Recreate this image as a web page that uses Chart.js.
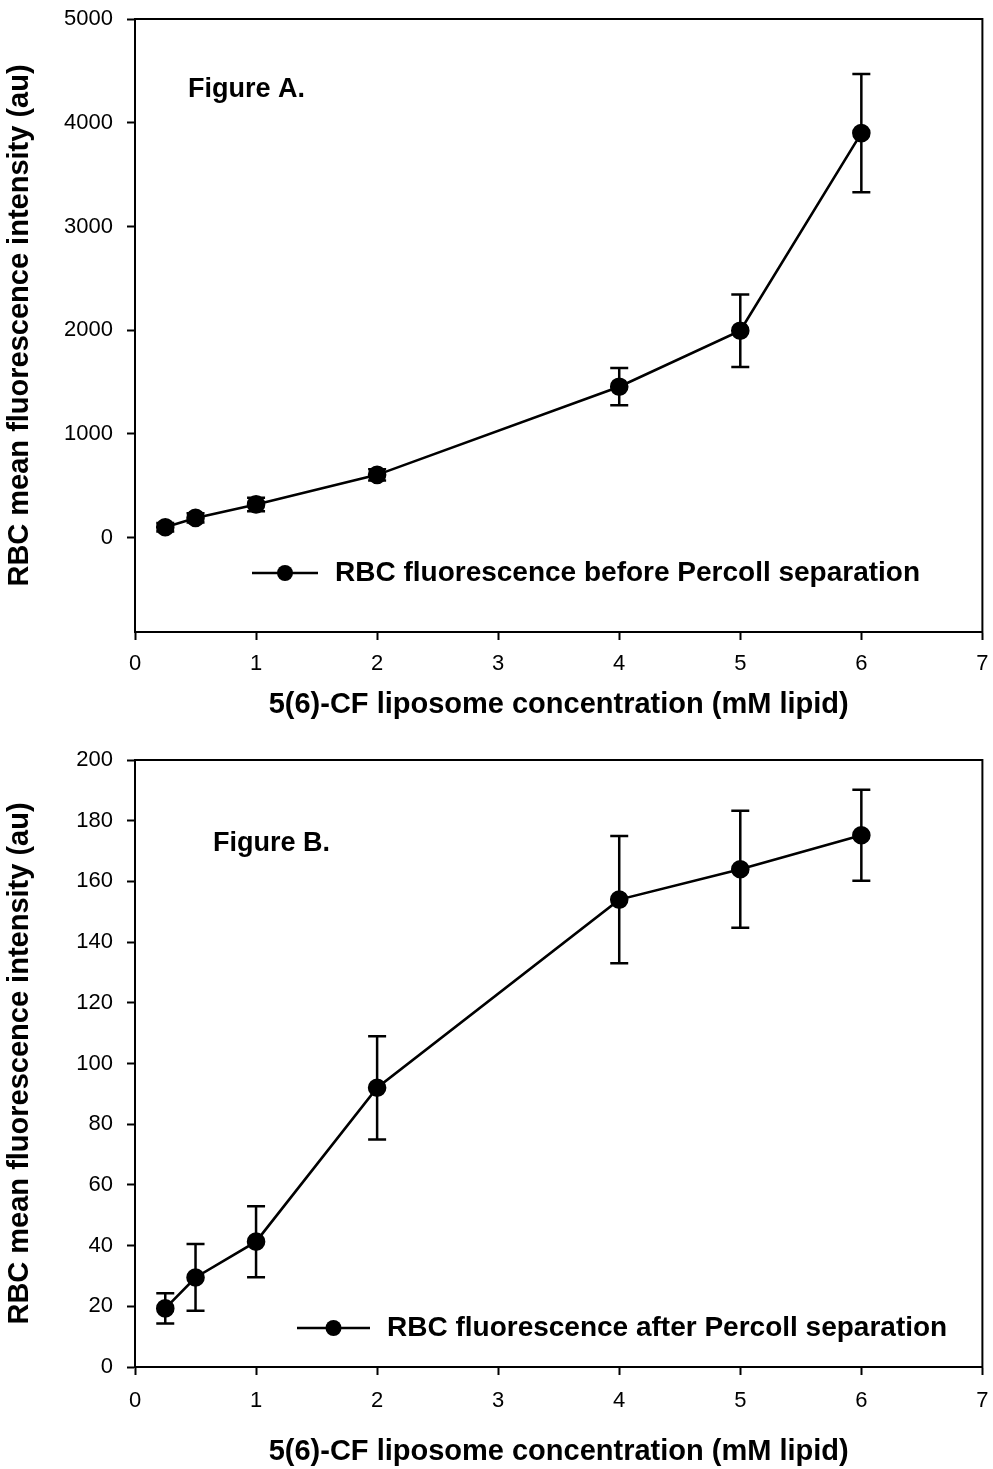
<!DOCTYPE html>
<html>
<head>
<meta charset="utf-8">
<script src="https://cdn.jsdelivr.net/npm/chart.js@4.4.1/dist/chart.umd.min.js"></script>
<style>
  body { margin: 0; background: #fff; }
  .panel { position: absolute; left: 0; }
  #panelA { top: 0; }
  #panelB { top: 730px; }
</style>
</head>
<body>
<div class="panel" id="panelA"><canvas id="chartA" width="993" height="730"></canvas></div>
<div class="panel" id="panelB"><canvas id="chartB" width="993" height="739"></canvas></div>
<script>
// liposome concentration (mM lipid)
const concentrations = [0.25, 0.5, 1, 2, 4, 5, 6];

// Figure A: before Percoll separation
const fluorBefore = [100, 190, 320, 605, 1455, 1995, 3900];
const errBefore = [40, 45, 65, 55, 180, 350, 570];

// Figure B: after Percoll separation
const fluorAfter = [19.3, 29.5, 41.3, 92, 154, 164, 175.2];
const errAfter = [5, 11, 11.7, 17, 21, 19.3, 15];

const xTicks = [0, 1, 2, 3, 4, 5, 6, 7];
const yTicksA = [0, 1000, 2000, 3000, 4000, 5000];
const yTicksB = [0, 20, 40, 60, 80, 100, 120, 140, 160, 180, 200];

const FONT = "'Liberation Sans', Arial, Helvetica, sans-serif";

// box around the plot area, vertical error bars with caps, panel label, legend
const frameAndErrors = {
  id: 'frameAndErrors',
  afterDatasetsDraw(chart, args, opts) {
    const { ctx, chartArea: a, scales: { x, y } } = chart;
    ctx.save();
    ctx.strokeStyle = '#000';
    ctx.fillStyle = '#000';
    ctx.lineWidth = 2;
    ctx.strokeRect(a.left, a.top, a.right - a.left, a.bottom - a.top);
    ctx.lineWidth = 2.5;
    const ds = chart.data.datasets[0];
    opts.errors.forEach((e, i) => {
      const px = x.getPixelForValue(ds.data[i].x);
      const hi = y.getPixelForValue(ds.data[i].y + e);
      const lo = y.getPixelForValue(ds.data[i].y - e);
      ctx.beginPath();
      ctx.moveTo(px, hi); ctx.lineTo(px, lo);
      ctx.moveTo(px - 9, hi); ctx.lineTo(px + 9, hi);
      ctx.moveTo(px - 9, lo); ctx.lineTo(px + 9, lo);
      ctx.stroke();
    });
    ctx.font = 'bold ' + opts.labelSize + 'px ' + FONT;
    ctx.textBaseline = 'middle';
    ctx.fillText(opts.label, opts.labelX, opts.labelY);

    const L = opts.legend;
    ctx.beginPath();
    ctx.moveTo(L.x, L.y); ctx.lineTo(L.x + L.len, L.y);
    ctx.stroke();
    ctx.beginPath();
    ctx.arc(L.x + L.len / 2, L.y, 8, 0, Math.PI * 2);
    ctx.fill();
    ctx.font = 'bold ' + L.size + 'px ' + FONT;
    ctx.fillText(ds.label, L.x + L.len + L.gap, L.y);
    ctx.restore();
  }
};

function makeChart(id, label, values, errors, yMin, yMax, yTicks, extra) {
  const points = concentrations.map((c, i) => ({ x: c, y: values[i] }));
  return new Chart(document.getElementById(id), {
    type: 'scatter',
    data: {
      datasets: [{
        label: label,
        data: points,
        showLine: true,
        borderColor: '#000',
        borderWidth: 2.6,
        backgroundColor: '#000',
        pointRadius: 8,
        pointHoverRadius: 8,
        tension: 0
      }]
    },
    options: {
      responsive: false,
      animation: false,
      layout: { padding: { top: extra.top, right: 8, left: 0, bottom: 0 } },
      plugins: {
        legend: { display: false },
        tooltip: { enabled: false },
        frameAndErrors: {
          errors: errors,
          label: extra.figLabel,
          labelX: extra.figX, labelY: extra.figY, labelSize: 27,
          legend: extra.legend
        }
      },
      scales: {
        x: {
          type: 'linear', min: 0, max: 7,
          afterBuildTicks: s => { s.ticks = xTicks.map(v => ({ value: v })); },
          afterFit: s => { s.height = extra.xHeight; s.paddingLeft = 0; s.paddingRight = 0; },
          grid: { drawOnChartArea: false, drawTicks: true, tickLength: 8, tickColor: '#000', tickWidth: 2 },
          border: { color: '#000', width: 2 },
          ticks: { color: '#000', font: { family: FONT, size: 22 }, padding: extra.xTickPad, maxRotation: 0,
                   callback: v => String(v) },
          title: {
            display: true, text: '5(6)-CF liposome concentration (mM lipid)', color: '#000',
            font: { family: FONT, size: 29, weight: 'bold' }, padding: { top: 0, bottom: extra.xTitlePad }
          }
        },
        y: {
          type: 'linear', min: yMin, max: yMax,
          afterBuildTicks: s => { s.ticks = yTicks.map(v => ({ value: v })); },
          afterFit: s => { s.width = 135; s.paddingTop = 0; s.paddingBottom = 0; },
          grid: { drawOnChartArea: false, drawTicks: true, tickLength: 8, tickColor: '#000', tickWidth: 2 },
          border: { color: '#000', width: 2 },
          ticks: { color: '#000', font: { family: FONT, size: 22 }, padding: 14, callback: v => String(v) },
          title: {
            display: true, text: 'RBC mean fluorescence intensity (au)', color: '#000',
            font: { family: FONT, size: 29, weight: 'bold' }, padding: { top: 3, bottom: 0 }
          }
        }
      }
    },
    plugins: [frameAndErrors]
  });
}

makeChart('chartA', 'RBC fluorescence before Percoll separation', fluorBefore, errBefore,
  -910, 5000, yTicksA, {
    top: 19, xHeight: 98, xTickPad: 11, xTitlePad: 8,
    figLabel: 'Figure A.', figX: 188, figY: 90,
    legend: { x: 252, y: 573, len: 66, gap: 17, size: 28 }
  });

makeChart('chartB', 'RBC fluorescence after Percoll separation', fluorAfter, errAfter,
  0, 200, yTicksB, {
    top: 30, xHeight: 102, xTickPad: 13, xTitlePad: 0,
    figLabel: 'Figure B.', figX: 213, figY: 114,
    legend: { x: 297, y: 598, len: 73, gap: 17, size: 28 }
  });
</script>
</body>
</html>
